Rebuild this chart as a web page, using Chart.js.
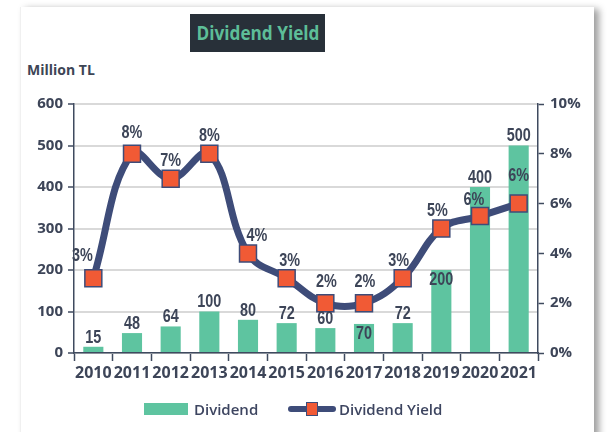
<!DOCTYPE html>
<html>
<head>
<meta charset="utf-8">
<script src="https://cdn.jsdelivr.net/npm/chart.js@4.4.0/dist/chart.umd.min.js"></script>
<style>
  html, body { margin: 0; padding: 0; background: #fff; }
  body { width: 615px; height: 432px; position: relative; overflow: hidden; font-family: 'Open Sans', sans-serif; }
  .card { position: absolute; left: 20px; top: 7px; width: 573px; height: 440px; background: #fff;
          box-shadow: 5px 2px 7px rgba(0,0,0,0.38); border-left: 1px solid #f0f0f0; }
  .title { position: absolute; left: 190px; top: 14px; width: 135px; height: 38px; background: #283039;
           color: #5dbe98; font-weight: 700; font-size: 20px; line-height: 38px; white-space: nowrap; }
  .title span { position: absolute; left: 50%; top: 0; transform: translateX(-50%) scaleX(0.86); }
  .unit { position: absolute; left: 27px; top: 60px; color: #3d4555; font-weight: 700; font-size: 14px; }
  #wrap { position: absolute; left: 0; top: 0; width: 615px; height: 432px; }
  .legend { position: absolute; top: 398px; left: 0; width: 615px; height: 22px; color: #3d4560;
            font-size: 15px; font-weight: 600; }
  .legend span { position: absolute; top: 0; line-height: 22px; }
  .sw-bar { position: absolute; left: 144px; top: 5px; width: 44px; height: 12px; background: #5ec4a0; }
  .sw-line { position: absolute; left: 288px; top: 8px; width: 48px; height: 6px; background: #3e4c79; border-radius: 3px; }
  .sw-mark { position: absolute; left: 306px; top: 4px; width: 10px; height: 12px; background: #f15a35; border: 1px solid #3e4c79; }
</style>
</head>
<body>
<div class="card"></div>
<div class="title"><span>Dividend Yield</span></div>
<div class="unit">Million TL</div>
<div id="wrap"><canvas id="chart" width="615" height="432"></canvas></div>
<div class="legend">
  <div class="sw-bar"></div><span style="left:194px">Dividend</span>
  <div class="sw-line"></div><div class="sw-mark"></div><span style="left:339px">Dividend Yield</span>
</div>
<script>
const years = ['2010', '2011', '2012', '2013', '2014', '2015', '2016', '2017', '2018', '2019', '2020', '2021'];
const dividend = [15, 48, 64, 100, 80, 72, 60, 70, 72, 200, 400, 500];
const yieldPct = [3, 8, 7, 8, 4, 3, 2, 2, 3, 5, 5.5, 6];
const leftTicks = [0, 100, 200, 300, 400, 500, 600];
const rightTicks = [0, 2, 4, 6, 8, 10];

const axisColor = '#3f4a5f';
const textColor = '#3d4558';

// label placement tweaks (style only)
const barLabelInside = [false, false, false, false, false, false, false, true, false, true, false, false];
const lineLabelDx = [-11, 0, 0, 0, 9, 3, 1, 1, -4, -4, -6, 0];
const lineLabelDy = [-22, -21, -18, -18, -17, -17, -21, -21, -17, -17, -16, -28];

function narrowText(ctx, text, x, y) {
    ctx.save();
    ctx.translate(x, y);
    ctx.scale(0.8, 1);
    ctx.fillText(text, 0, 0);
    ctx.restore();
}

const valueLabels = {
    id: 'valueLabels',
    afterDatasetsDraw(chart) {
        const ctx = chart.ctx;
        ctx.save();
        ctx.fillStyle = textColor;
        ctx.textAlign = 'center';
        ctx.textBaseline = 'middle';
        ctx.font = 'bold 18px "Liberation Sans", Arial, sans-serif';

        const bars = chart.getDatasetMeta(1).data;
        bars.forEach((bar, i) => {
            const y = barLabelInside[i] ? bar.y + 10 : bar.y - 9;
            narrowText(ctx, String(dividend[i]), bar.x, y);
        });

        const pts = chart.getDatasetMeta(0).data;
        pts.forEach((p, i) => {
            narrowText(ctx, Math.round(yieldPct[i]) + '%', p.x + lineLabelDx[i], p.y + lineLabelDy[i]);
        });
        ctx.restore();
    }
};

const ctx = document.getElementById('chart').getContext('2d');
new Chart(ctx, {
    type: 'bar',
    data: {
        labels: years,
        datasets: [{
            type: 'line',
            label: 'Dividend Yield',
            data: yieldPct,
            yAxisID: 'y1',
            borderColor: '#3e4c79',
            borderWidth: 7,
            tension: 0.4,
            pointStyle: 'rect',
            pointRadius: 12,
            pointHoverRadius: 12,
            pointBackgroundColor: '#f15a35',
            pointBorderColor: '#3e4c79',
            pointBorderWidth: 1.5,
            order: 0
        }, {
            type: 'bar',
            label: 'Dividend',
            data: dividend,
            yAxisID: 'y',
            backgroundColor: '#5ec4a0',
            categoryPercentage: 1,
            barPercentage: 0.52,
            order: 1
        }]
    },
    options: {
        responsive: false,
        animation: false,
        layout: { padding: { top: 104, bottom: 40, left: 0, right: 0 } },
        scales: {
            x: {
                grid: { drawOnChartArea: false, tickLength: 8, tickColor: axisColor, tickWidth: 1.5 },
                border: { color: axisColor, width: 1.5 },
                ticks: {
                    color: textColor, autoSkip: false, maxRotation: 0, minRotation: 0, padding: 3,
                    font: { family: 'Open Sans', weight: 'bold', size: 16 }
                },
                afterFit(scale) { scale.height = 39; }
            },
            y: {
                position: 'left',
                min: 0, max: 600,
                afterBuildTicks(scale) { scale.ticks = leftTicks.map(v => ({ value: v })); },
                grid: { color: '#d9d9d9', lineWidth: 2, tickLength: 6, tickColor: axisColor, tickWidth: 1.5 },
                border: { color: axisColor, width: 1.5 },
                ticks: { color: textColor, padding: 5, font: { family: 'Open Sans', weight: 'bold', size: 15 } },
                afterFit(scale) { scale.width = 74; }
            },
            y1: {
                position: 'right',
                min: 0, max: 10,
                afterBuildTicks(scale) { scale.ticks = rightTicks.map(v => ({ value: v })); },
                grid: { drawOnChartArea: false, tickLength: 6, tickColor: axisColor, tickWidth: 1.5 },
                border: { color: axisColor, width: 1.5 },
                ticks: {
                    color: textColor, padding: 6, font: { family: 'Open Sans', weight: 'bold', size: 15 },
                    callback: v => v + '%'
                },
                afterFit(scale) { scale.width = 77; }
            }
        },
        plugins: {
            legend: { display: false },
            tooltip: { enabled: false }
        }
    },
    plugins: [valueLabels]
});
</script>
</body>
</html>
